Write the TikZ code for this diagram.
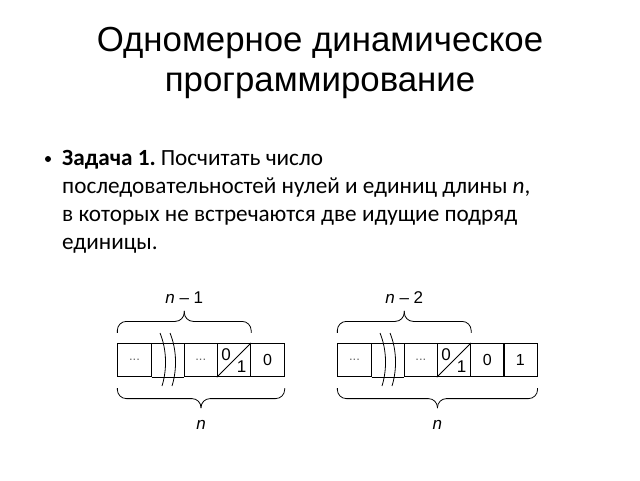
\documentclass[tikz,border=0pt]{standalone}
\usepackage{fontspec}
\setmainfont{Carlito}
\newfontfamily\arialf{Liberation Sans}
\usetikzlibrary{calc}
\begin{document}
\begin{tikzpicture}[x=1pt,y=-1pt,
  cell/.style={draw, line width=0.8pt, minimum width=33.5pt, minimum height=33.4pt, inner sep=0pt, font=\arialf\fontsize{16}{16}\selectfont},
  dots/.style={font=\arialf\fontsize{13}{13}\selectfont, text=black!60},
  lab/.style={font=\arialf\fontsize{17}{17}\selectfont, inner sep=0pt},
  br/.style={line width=0.8pt, rounded corners=9pt},
  wav/.style={line width=0.8pt},
  body/.style={anchor=base west, inner sep=0pt, font=\fontsize{23.2}{23.2}\selectfont},
  ttl/.style={anchor=base, inner sep=0pt, font=\arialf\fontsize{34.8}{34.8}\selectfont}]
\useasboundingbox (0,0) rectangle (640,480);
% title
\node[ttl] (t1) at (320,51) {Одномерное динамическое};
\node[ttl] (t2) at (320,91) {программирование};
% bullet
\fill (48,159) circle (3);
\node[body] (b1) at (62,165) {\textbf{Задача 1.}\hspace{-2pt} Посчитать число};
\node[body] (b2) at (62,193) {последовательностей нулей и единиц длины \textit{n},};
\node[body] (b3) at (62,221) {в которых не встречаются две идущие подряд};
\node[body] (b4) at (62,249) {единицы.};
% ---------- diagram 1
\node[cell] (a1) at (134.5,360) {};
\node[cell] (a2) at (200.8,360) {};
\node[cell] (a3) at (234.0,360) {};
\node[cell] (a4) at (267.5,360) {0};
\node[dots] at (a1) {...};
\node[dots] at (a2) {...};
\draw[line width=0.8pt] (a1.north east) -- (a2.north west) (a1.south east) -- (a2.south west);
\draw[line width=0.8pt] (a3.south west) -- (a3.north east);
\node[lab] at ($(a3)+(-8,-5)$) {0};
\node[lab] at ($(a3)+(7.5,7)$) {1};
\draw[wav] (160,333) .. controls (167,350) and (167,370) .. (162,386);
\draw[wav] (170,333) .. controls (177,350) and (177,370) .. (172,386);
% braces
\coordinate (u1) at ($(a1.north west)+(0,-10)$);
\coordinate (u2) at ($(a3.north east)+(0,-10)$);
\draw[br] (u1) -- ++(0,-11.5) -| ($(u1)!0.5!(u2)+(0,-22)$);
\draw[br] (u2) -- ++(0,-11.5) -| ($(u1)!0.5!(u2)+(0,-22)$);
\node[lab] (la) at ($(u1)!0.5!(u2)+(0,-35)$) {\textit{n} – 1};
\coordinate (d1) at ($(a1.south west)+(0,11)$);
\coordinate (d2) at ($(a4.south east)+(0,11)$);
\draw[br] (d1) -- ++(0,10.5) -| ($(d1)!0.5!(d2)+(0,20)$);
\draw[br] (d2) -- ++(0,10.5) -| ($(d1)!0.5!(d2)+(0,20)$);
\node[lab] (lb) at ($(d1)!0.5!(d2)+(0,37)$) {\textit{n}};
% ---------- diagram 2
\node[cell] (e1) at (354.5,360) {};
\node[cell] (e2) at (420.8,360) {};
\node[cell] (e3) at (454.0,360) {};
\node[cell] (e4) at (487.4,360) {0};
\node[cell] (e5) at (520.4,360) {1};
\node[dots] at (e1) {...};
\node[dots] at (e2) {...};
\draw[line width=0.8pt] (e1.north east) -- (e2.north west) (e1.south east) -- (e2.south west);
\draw[line width=0.8pt] (e3.south west) -- (e3.north east);
\node[lab] at ($(e3)+(-8,-5)$) {0};
\node[lab] at ($(e3)+(7.5,7)$) {1};
\draw[wav] (380,333) .. controls (387,350) and (387,370) .. (382,386);
\draw[wav] (390,333) .. controls (397,350) and (397,370) .. (392,386);
\coordinate (v1) at ($(e1.north west)+(0,-10)$);
\coordinate (v2) at ($(e3.north east)+(0,-10)$);
\draw[br] (v1) -- ++(0,-11.5) -| ($(v1)!0.5!(v2)+(0,-22)$);
\draw[br] (v2) -- ++(0,-11.5) -| ($(v1)!0.5!(v2)+(0,-22)$);
\node[lab] (lc) at ($(v1)!0.5!(v2)+(0,-35)$) {\textit{n} – 2};
\coordinate (w1) at ($(e1.south west)+(0,11)$);
\coordinate (w2) at ($(e5.south east)+(0,11)$);
\draw[br] (w1) -- ++(0,10.5) -| ($(w1)!0.5!(w2)+(0,20)$);
\draw[br] (w2) -- ++(0,10.5) -| ($(w1)!0.5!(w2)+(0,20)$);
\node[lab] (ld) at ($(w1)!0.5!(w2)+(0,37)$) {\textit{n}};
\end{tikzpicture}
\end{document}
